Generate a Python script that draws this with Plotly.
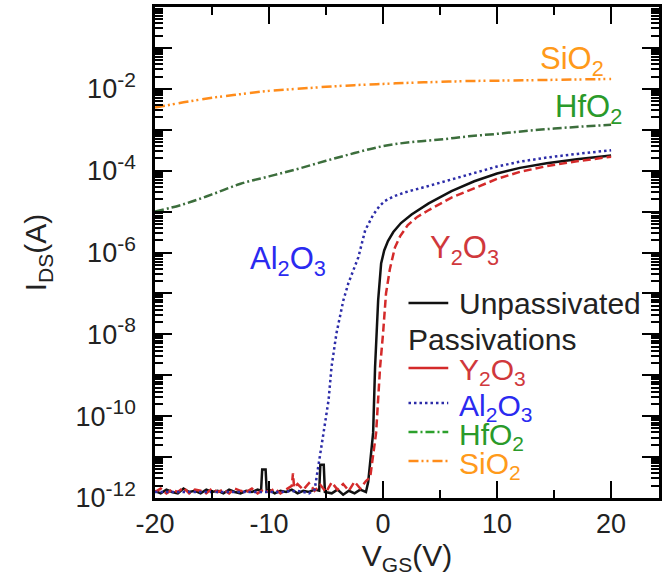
import plotly.graph_objects as go

# ---------------- data ----------------
V_SIO2 = [-20, -17.5, -15, -12.5, -10, -7.5, -5, -2.5, 0, 2.5, 5, 7.5, 10, 12.5, 15, 17.5, 20]
I_SIO2 = [3.47e-3, 4.68e-3, 6.03e-3, 7.41e-3, 8.91e-3, 1.00e-2, 1.12e-2, 1.23e-2, 1.32e-2,
          1.41e-2, 1.48e-2, 1.55e-2, 1.58e-2, 1.62e-2, 1.66e-2, 1.70e-2, 1.74e-2]

V_HFO2 = [-20, -17.5, -15, -12.5, -10, -7.5, -5, -2.5, 0, 2.5, 5, 7.5, 10, 12.5, 15, 17.5, 20]
I_HFO2 = [1.0e-5, 1.51e-5, 2.63e-5, 4.79e-5, 7.24e-5, 1.10e-4, 1.74e-4, 2.69e-4, 3.98e-4,
          5.01e-4, 5.75e-4, 6.92e-4, 7.94e-4, 9.33e-4, 1.07e-3, 1.20e-3, 1.32e-3]

V_AL2O3 = [-20, -16, -12, -9, -7.5, -6.5, -6.0, -5.8, -5.65, -5.22, -4.78, -4.52, -4.09, -3.48,
           -3.04, -2.17, -1.57, -0.87, -0.3, 0.17, 0.9, 1.91, 3.91, 5.65, 8, 10, 12, 14.35, 17, 20]
I_AL2O3 = [1.4e-12, 1.4e-12, 1.4e-12, 1.4e-12, 1.5e-12, 1.3e-12, 1.6e-12, 3.5e-12, 5.8e-12,
           3.9e-11, 2.45e-10, 1.58e-9, 1.05e-8, 6.8e-8, 1.78e-7, 7.6e-7, 3.47e-6, 8.32e-6,
           1.38e-5, 1.82e-5, 2.34e-5, 2.95e-5, 4.17e-5, 5.75e-5, 8.91e-5, 1.26e-4, 1.66e-4,
           2.09e-4, 2.57e-4, 3.16e-4]

V_UNPASS = [-20, -19.5, -19, -18.5, -18, -17.5, -17, -16.5, -16, -15.5, -15, -14.5, -14, -13.5,
            -13, -12.5, -12, -11.5, -11, -10.7, -10.6, -10.3, -10.2, -10, -9.5, -9, -8.5, -8,
            -7.5, -7, -6.5, -6, -5.6, -5.5, -5.2, -5.1, -4.5, -4, -3.5, -3, -2.5, -2, -1.5,
            -1.3, -0.87, -0.7, -0.43, -0.17, 0.1, 0.43, 0.9, 1.57, 2.5, 4, 6, 8, 10, 12, 14.35,
            17, 20]
I_UNPASS = [1.5e-12, 1.3e-12, 1.6e-12, 1.4e-12, 1.3e-12, 1.7e-12, 1.4e-12, 1.5e-12, 1.3e-12,
            1.6e-12, 1.4e-12, 1.5e-12, 1.3e-12, 1.6e-12, 1.4e-12, 1.3e-12, 1.5e-12, 1.4e-12,
            1.6e-12, 1.5e-12, 5.0e-12, 5.0e-12, 1.4e-12, 1.6e-12, 1.3e-12, 1.5e-12, 1.4e-12,
            1.6e-12, 1.3e-12, 1.5e-12, 1.4e-12, 1.6e-12, 1.5e-12, 6.5e-12, 6.5e-12, 1.4e-12,
            1.3e-12, 1.6e-12, 1.2e-12, 1.5e-12, 1.3e-12, 1.6e-12, 1.4e-12, 2.5e-12,
            3.9e-11, 1.58e-9, 6.8e-8, 5.37e-7, 1.12e-6, 1.91e-6, 3.16e-6, 5.25e-6, 8.51e-6,
            1.58e-5, 3.16e-5, 5.50e-5, 8.51e-5, 1.17e-4, 1.51e-4, 1.91e-4, 2.34e-4]

V_Y2O3 = [-20, -19.5, -19, -18.5, -18, -17.5, -17, -16.5, -16, -15.5, -15, -14.5, -14, -13.5,
          -13, -12.5, -12, -11.5, -11, -10.5, -10, -9.5, -9, -8.5, -8, -7.9, -7.8, -7.5, -7,
          -6.5, -6, -5.5, -5, -4.5, -4, -3.5, -3, -2.5, -2, -1.5,
          -1.13, -0.61, -0.26, 0, 0.26, 0.6, 1.04, 1.5, 2.17, 3, 3.91, 6, 8, 10, 12, 14.35, 17, 20]
I_Y2O3 = [1.4e-12, 1.7e-12, 1.3e-12, 1.6e-12, 1.4e-12, 1.8e-12, 1.3e-12, 1.6e-12, 1.5e-12,
          1.3e-12, 1.7e-12, 1.4e-12, 1.6e-12, 1.3e-12, 1.7e-12, 1.5e-12, 1.4e-12, 1.7e-12,
          1.3e-12, 1.6e-12, 1.4e-12, 1.7e-12, 1.3e-12, 1.6e-12, 2.0e-12, 4.0e-12, 1.8e-12,
          2.2e-12, 1.6e-12, 2.3e-12, 1.5e-12, 2.1e-12, 1.4e-12, 2.4e-12, 1.6e-12, 2.2e-12,
          1.5e-12, 2.5e-12, 1.7e-12, 2.6e-12,
          3.2e-12, 3.9e-11, 1.58e-9, 1.05e-8, 1.0e-7, 3.98e-7, 1.32e-6, 2.51e-6, 4.68e-6,
          7.41e-6, 1.05e-5, 2.19e-5, 3.80e-5, 6.31e-5, 9.33e-5, 1.29e-4, 1.70e-4, 2.19e-4]

Y_TICK_EXP = [-12, -11, -10, -9, -8, -7, -6, -5, -4, -3, -2, -1, 0]
X_TICKS = [-20, -10, 0, 10, 20]
X_TICK_TEXT = ["-20", "-10", "0", "10", "20"]

LEGEND_LABELS = ["Unpassivated", "Y<sub>2</sub>O<sub>3</sub>", "Al<sub>2</sub>O<sub>3</sub>",
                 "HfO<sub>2</sub>", "SiO<sub>2</sub>"]

# ---------------- styles ----------------
FONT = "Liberation Sans, Arial, sans-serif"
TXT = "#222222"
C_BLACK = "#111111"
C_RED = "#d42a2a"
C_BLUE = "#2c2ca8"
C_GREEN = "#3c6e3c"
C_ORANGE = "#ff8c1a"
T_RED = "#d0383c"
T_BLUE = "#2a2af0"
T_GREEN = "#2a9a2a"
T_ORANGE = "#ff9a1a"
D_SIO2 = "10px,3px,2px,3px,2px,4px"
D_HFO2 = "9px,3px,2px,3px"
D_Y2O3 = "8px,4px"
D_AL2O3 = "2.5px,3px"
LW = 2.5

fig = go.Figure()
fig.add_trace(go.Scatter(x=V_UNPASS, y=I_UNPASS, mode="lines",
                         line=dict(color=C_BLACK, width=LW)))
fig.add_trace(go.Scatter(x=V_Y2O3, y=I_Y2O3, mode="lines",
                         line=dict(color=C_RED, width=LW, dash=D_Y2O3)))
fig.add_trace(go.Scatter(x=V_AL2O3, y=I_AL2O3, mode="lines",
                         line=dict(color=C_BLUE, width=LW, dash=D_AL2O3)))
fig.add_trace(go.Scatter(x=V_HFO2, y=I_HFO2, mode="lines",
                         line=dict(color=C_GREEN, width=LW, dash=D_HFO2, shape="spline")))
fig.add_trace(go.Scatter(x=V_SIO2, y=I_SIO2, mode="lines",
                         line=dict(color=C_ORANGE, width=LW, dash=D_SIO2, shape="spline")))

# axis geometry (pixels)
W, H = 664, 583
ML, MR, MT, MB = 155, 2, 7, 85
PW = W - ML - MR
PH = H - MT - MB


def px_x(p):
    return (p - ML) / PW


def px_y(p):
    return (H - MB - p) / PH


y_tickvals = [10.0 ** e for e in Y_TICK_EXP]
y_ticktext = ['10<sup><span style="font-size:21px">%d</span></sup>' % e
              if (e % 2 == 0 and e != 0) else "" for e in Y_TICK_EXP]
y_minor = [k * 10.0 ** e for e in Y_TICK_EXP[:-1] for k in range(2, 10)]

fig.update_layout(
    width=W, height=H,
    margin=dict(l=ML, r=MR, t=MT, b=MB),
    paper_bgcolor="white", plot_bgcolor="white",
    showlegend=False,
    font=dict(family=FONT, color=TXT, size=27),
    xaxis=dict(
        range=[-20, 24.2], tickmode="array", tickvals=X_TICKS, ticktext=X_TICK_TEXT,
        ticks="inside", ticklen=17, tickwidth=2, tickcolor="black",
        minor=dict(dtick=5, tick0=-20, ticks="inside", ticklen=8, tickwidth=2, tickcolor="black"),
        showline=True, linewidth=2.5, linecolor="black", mirror="ticks",
        showgrid=False, zeroline=False,
        tickfont=dict(size=27, color=TXT),
        title=dict(text="V<sub>GS</sub>(V)", font=dict(size=30, color=TXT), standoff=6),
    ),
    yaxis=dict(
        type="log", range=[-12, 0], tickmode="array",
        tickvals=y_tickvals, ticktext=y_ticktext, ticklabelstandoff=11,
        ticks="inside", ticklen=17, tickwidth=2, tickcolor="black",
        minor=dict(tickmode="array", tickvals=y_minor, ticks="inside", ticklen=8,
                   tickwidth=1.5, tickcolor="black"),
        showline=True, linewidth=2.5, linecolor="black", mirror="ticks",
        showgrid=False, zeroline=False,
        tickfont=dict(size=27, color=TXT),
        title=dict(text="I<sub>DS</sub>(A)", font=dict(size=30, color=TXT), standoff=20),
    ),
)

# in-plot labels (data coordinates)
fig.add_annotation(x=16.6, y=-1.32, text="SiO<sub>2</sub>", showarrow=False,
                   font=dict(size=31, color=T_ORANGE))
fig.add_annotation(x=18.0, y=-2.49, text="HfO<sub>2</sub>", showarrow=False,
                   font=dict(size=31, color=T_GREEN))
fig.add_annotation(x=-8.35, y=-6.2, text="Al<sub>2</sub>O<sub>3</sub>", showarrow=False,
                   font=dict(size=31, color=T_BLUE))
fig.add_annotation(x=7.1, y=-5.95, text="Y<sub>2</sub>O<sub>3</sub>", showarrow=False,
                   font=dict(size=31, color=T_RED))

# custom legend
leg_rows = [303, 368, 403, 432, 461]
leg_colors = [C_BLACK, C_RED, C_BLUE, "#2ca02c", C_ORANGE]
leg_text_colors = [TXT, T_RED, T_BLUE, T_GREEN, T_ORANGE]
leg_dash = ["solid", "solid", D_AL2O3, D_HFO2, D_SIO2]
for row, lab, lc, tc, dsh in zip(leg_rows, LEGEND_LABELS, leg_colors, leg_text_colors, leg_dash):
    fig.add_shape(type="line", xref="paper", yref="paper",
                  x0=px_x(410), x1=px_x(450), y0=px_y(row), y1=px_y(row),
                  line=dict(color=lc, width=LW, dash=dsh))
    off = 0 if lab == "Unpassivated" else 4
    fig.add_annotation(xref="paper", yref="paper", x=px_x(459), y=px_y(row + off),
                       xanchor="left", yanchor="middle", text=lab, showarrow=False,
                       font=dict(size=30, color=tc))
fig.add_annotation(xref="paper", yref="paper", x=px_x(407), y=px_y(339),
                   xanchor="left", yanchor="middle", text="Passivations", showarrow=False,
                   font=dict(size=30, color=TXT))

fig.write_html("out.html")
